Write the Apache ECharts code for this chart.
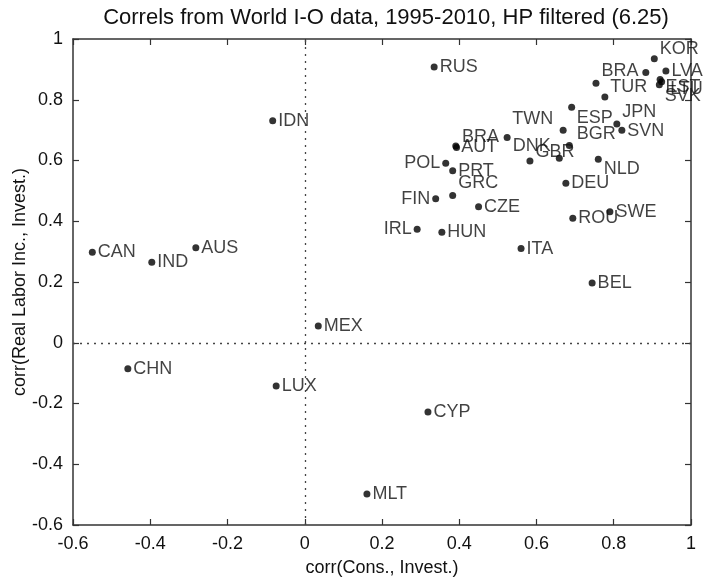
<!DOCTYPE html>
<html>
<head>
<meta charset="utf-8">
<script src="https://cdn.jsdelivr.net/npm/echarts@6/dist/echarts.min.js"></script>
<style>
  html, body { margin: 0; padding: 0; background: #fff; }
  #chart { width: 706px; height: 583px; }
</style>
</head>
<body>
<div id="chart"></div>
<script>
// country codes as they appear in the figure
const countries = [
  'KOR','USA','LVA','EST','SVK','LTU','BRA','TUR','TWN','ESP',
  'BGR','JPN','SVN','DNK','BRA','AUT','GBR','FRA','NLD','POL',
  'PRT','GRC','FIN','DEU','CZE','ROU','SWE','IRL','HUN','ITA',
  'BEL','RUS','IDN','CAN','IND','AUS','MEX','CHN','LUX','CYP','MLT'
]
// corr(Cons., Invest.)
const consInvest = [
  0.905, 0.883, 0.935, 0.920, 0.918, 0.924, 0.754, 0.777, 0.691, 0.669,
  0.685, 0.808, 0.821, 0.524, 0.393, 0.391, 0.583, 0.659, 0.760, 0.365,
  0.383, 0.383, 0.339, 0.676, 0.450, 0.694, 0.790, 0.291, 0.355, 0.560,
  0.744, 0.335, -0.083, -0.550, -0.396, -0.282, 0.035, -0.458, -0.074, 0.319, 0.161
]
// corr(Real Labor Inc., Invest.)
const laborInvest = [
  0.935, 0.890, 0.895, 0.867, 0.849, 0.859, 0.854, 0.809, 0.775, 0.700,
  0.649, 0.720, 0.700, 0.676, 0.643, 0.648, 0.598, 0.607, 0.604, 0.591,
  0.566, 0.485, 0.474, 0.525, 0.448, 0.410, 0.431, 0.374, 0.364, 0.310,
  0.197, 0.908, 0.731, 0.298, 0.265, 0.313, 0.055, -0.086, -0.142, -0.228, -0.498
]
const axisMin = -0.6
const axisMax = 1
const axisStep = 0.2

// where each text sits next to its dot (the original nudged some of them)
const labelTweaks = {
  'KOR': {dy: -10},
  'USA': {hide: true},
  'EST': {dy: 8},
  'SVK': {dy: 11},
  'LTU': {dx: 3, dy: 7},
  'BRA': {dy: -12},
  'TUR': {dy: -10},
  'TWN': {side: 'left', dx: -13, dy: 12},
  'ESP': {dx: 8, dy: -12},
  'BGR': {dx: 2, dy: -12},
  'JPN': {dy: -12},
  'SVN': {dy: 1},
  'DNK': {dy: 9},
  'BRA#2': {dy: -10},
  'AUT': {dy: 1},
  'GBR': {dy: -9},
  'FRA': {hide: true},
  'NLD': {dy: 10},
  'POL': {side: 'left'},
  'FIN': {side: 'left'},
  'GRC': {dy: -12},
  'IRL': {side: 'left'}
}

const font = 'Liberation Sans, Arial, Helvetica, sans-serif'
const ink = '#111'

const seen = {}
const points = countries.map((name, i) => {
  seen[name] = (seen[name] || 0) + 1
  const key = seen[name] > 1 ? name + '#' + seen[name] : name
  const t = labelTweaks[key] || {}
  return {
    name: name,
    value: [consInvest[i], laborInvest[i]],
    label: {
      show: !t.hide,
      position: t.side || 'right',
      offset: [t.dx || 0, t.dy || 0]
    }
  }
})

function valueAxis(pos, extra) {
  return Object.assign({
    type: 'value',
    position: pos,
    min: axisMin,
    max: axisMax,
    interval: axisStep,
    axisLine: {show: true, onZero: false, lineStyle: {color: '#333', width: 1.5}},
    axisTick: {show: true, inside: true, length: 6, lineStyle: {color: '#333', width: 1.2}},
    splitLine: {show: false},
    axisLabel: {show: false}
  }, extra)
}

const chart = echarts.init(document.getElementById('chart'))
chart.setOption({
  animation: false,
  title: {
    text: 'Correls from World I-O data, 1995-2010, HP filtered (6.25)',
    left: 381,
    textAlign: 'center',
    top: 2,
    textStyle: {fontFamily: font, fontSize: 22, fontWeight: 'normal', color: ink}
  },
  grid: {left: 73, right: 15, top: 39, bottom: 58, outerBoundsMode: 'none', containLabel: false},
  xAxis: [
    valueAxis('bottom', {
      axisLabel: {show: true, fontFamily: font, fontSize: 18, color: ink, margin: 10},
      name: 'corr(Cons., Invest.)',
      nameLocation: 'middle',
      nameGap: 34,
      nameMoveOverlap: false,
      nameTextStyle: {fontFamily: font, fontSize: 18, color: ink}
    }),
    valueAxis('top')
  ],
  yAxis: [
    valueAxis('left', {
      axisLabel: {show: true, fontFamily: font, fontSize: 18, color: ink, margin: 10},
      name: 'corr(Real Labor Inc., Invest.)',
      nameLocation: 'middle',
      nameGap: 44,
      nameMoveOverlap: false,
      nameTextStyle: {fontFamily: font, fontSize: 18, color: ink}
    }),
    valueAxis('right')
  ],
  series: [{
    type: 'scatter',
    symbolSize: 7,
    itemStyle: {color: '#000'},
    label: {
      formatter: '{b}',
      distance: 2,
      fontFamily: font,
      fontSize: 18,
      color: ink
    },
    markLine: {
      silent: true,
      symbol: 'none',
      label: {show: false},
      lineStyle: {type: [2, 5], color: '#444', width: 1.3},
      data: [{xAxis: 0}, {yAxis: 0}]
    },
    data: points
  }]
})
</script>
</body>
</html>
